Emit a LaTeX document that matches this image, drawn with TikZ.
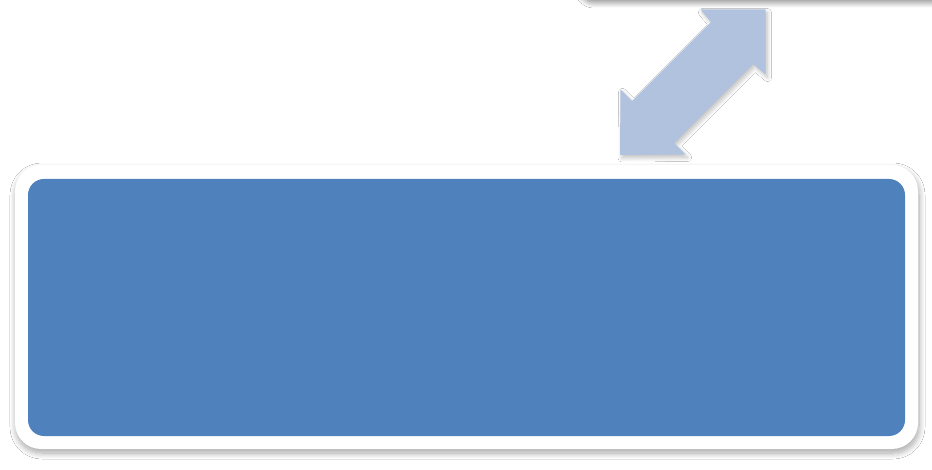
\documentclass[tikz,border=0pt]{standalone}
\usetikzlibrary{shadows.blur}
\definecolor{boxblue}{RGB}{79,129,189}
\definecolor{arrowblue}{RGB}{176,194,222}
\tikzset{
  framebox/.style={fill=white, draw=none, rounded corners=26pt, inner sep=0pt,
    blur shadow={shadow xshift=1pt, shadow yshift=-4pt, shadow blur radius=6pt, shadow blur steps=12, shadow opacity=35}},
  bluebox/.style={fill=boxblue, draw=none, rounded corners=16pt, inner sep=0pt},
  topbox/.style={fill=white, draw=none, rounded corners=14pt, inner sep=0pt,
    blur shadow={shadow xshift=0pt, shadow yshift=-3pt, shadow blur radius=6pt, shadow blur steps=12, shadow opacity=50}},
  linkarrow/.style={fill=arrowblue, draw=none,
    blur shadow={shadow xshift=2pt, shadow yshift=-3pt, shadow blur radius=4pt, shadow blur steps=10, shadow opacity=25}}
}
\begin{document}
\begin{tikzpicture}[x=1pt,y=-1pt]
  \path[use as bounding box, clip] (0,0) rectangle (932,470);
  \fill[white] (0,0) rectangle (932,470);
  % top box (mostly off the picture)
  \node[topbox, minimum width=420pt, minimum height=98pt] (top) at (790,-50) {};
  % large frame and its blue panel
  \node[framebox, minimum width=903pt, minimum height=284pt] (frame) at (466.5,307) {};
  \node[bluebox, minimum width=877pt, minimum height=257pt] (panel) at (466.5,307.5) {};
  % double-headed link arrow
  \coordinate (tipA) at (765.5,9.5);
  \coordinate (tipB) at (620,155);
  \path[linkarrow] (tipA) -- (700.5,9.5) -- (711,22) -- (632,101) -- (620.5,89.5)
    -- (tipB) -- (685.5,154.5) -- (674,143) -- (753,64) -- (765.5,74.5) -- cycle;
\end{tikzpicture}
\end{document}
